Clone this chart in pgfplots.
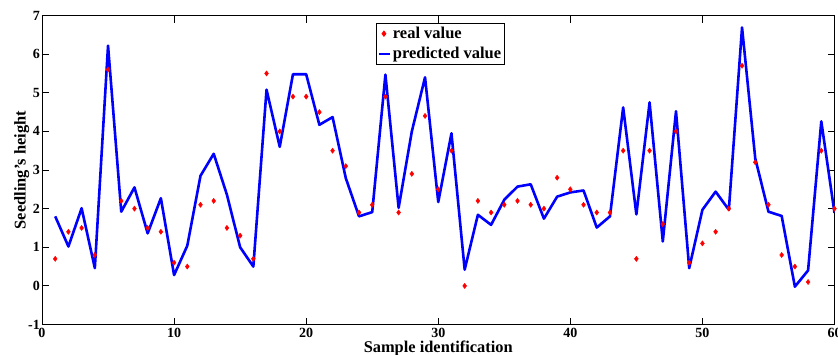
\documentclass[border=0pt]{standalone}
\usepackage{fontspec}
\setmainfont{Liberation Serif}
\usepackage{pgfplots}
\usepackage{pgfplotstable}
\pgfplotsset{compat=1.18}
\pgfplotsset{
  realleg/.style={legend image code/.code={\draw[##1] plot coordinates {(3pt,0pt)};}},
  predleg/.style={legend image code/.code={\draw[##1, line width=2pt] (-2pt,0pt) -- (9pt,0pt);}},
}
\pgfplotstableread{
x y
1 0.7
2 1.4
3 1.5
4 0.8
5 5.6
6 2.2
7 2.0
8 1.5
9 1.4
10 0.6
11 0.5
12 2.1
13 2.2
14 1.5
15 1.3
16 0.7
17 5.5
18 4.0
19 4.9
20 4.9
21 4.5
22 3.5
23 3.1
24 1.9
25 2.1
26 4.9
27 1.9
28 2.9
29 4.4
30 2.5
31 3.5
32 0.0
33 2.2
34 1.9
35 2.1
36 2.2
37 2.1
38 2.0
39 2.8
40 2.5
41 2.1
42 1.9
43 1.9
44 3.5
45 0.7
46 3.5
47 1.6
48 4.0
49 0.6
50 1.1
51 1.4
52 2.0
53 5.7
54 3.2
55 2.1
56 0.8
57 0.5
58 0.1
59 3.5
60 2.0
}\realtab
\pgfplotstableread{
x y
1 1.8
2 1.02
3 2.01
4 0.46
5 6.22
6 1.92
7 2.55
8 1.36
9 2.27
10 0.28
11 1.04
12 2.85
13 3.42
14 2.36
15 1.0
16 0.5
17 5.08
18 3.6
19 5.48
20 5.48
21 4.17
22 4.37
23 2.79
24 1.8
25 1.91
26 5.47
27 2.02
28 4.0
29 5.4
30 2.17
31 3.95
32 0.42
33 1.84
34 1.58
35 2.23
36 2.57
37 2.63
38 1.74
39 2.31
40 2.42
41 2.47
42 1.51
43 1.8
44 4.62
45 1.85
46 4.75
47 1.15
48 4.52
49 0.46
50 1.97
51 2.44
52 1.97
53 6.69
54 3.3
55 1.92
56 1.81
57 -0.02
58 0.4
59 4.26
60 1.89
}\predtab
\begin{document}
\begin{tikzpicture}
\begin{axis}[
  scale only axis,
  width=792.5pt, height=309pt,
  xmin=0, xmax=60, ymin=-1, ymax=7,
  xtick={0,10,...,60}, ytick={-1,0,...,7},
  tick pos=both, tick align=inside,
  major tick length=7pt,
  axis line style={line width=0.8pt, black},
  every tick/.style={line width=0.8pt, black},
  /pgf/number format/assume math mode=true,
  ticklabel style={font=\fontsize{14}{14}\selectfont\bfseries},
  xticklabel style={inner sep=0pt, anchor=north, yshift=-3.5pt},
  yticklabel style={inner sep=0pt, anchor=east, xshift=-2pt},
  xlabel={Sample identification},
  ylabel={Seedling's height},
  label style={font=\fontsize{16.4}{16.4}\selectfont\bfseries},
  xlabel style={at={(axis description cs:0.5,0)}, anchor=north, inner sep=0pt, yshift=-16pt},
  ylabel style={at={(axis description cs:-0.0353,0.5)}, anchor=north, inner sep=0pt},
  legend style={at={(axis description cs:0.4215,0.9757)}, anchor=north west,
    draw=black, line width=0.8pt, inner xsep=1.5pt, inner ysep=2pt,
    font=\fontsize{16.5}{16.5}\selectfont\bfseries,
    row sep=3.5pt,
    cells={anchor=west, inner sep=1pt, text height=11pt, text depth=3.5pt}},
  legend cell align=left,
]
\addplot[only marks, mark=diamond*, mark size=2.6pt, color=red, realleg]
  table[x=x,y=y] {\realtab};
\addlegendentry{real value}
\addplot[color=blue, line width=2.6pt, line join=round, no marks, predleg]
  table[x=x,y=y] {\predtab};
\addlegendentry{predicted value}
\end{axis}
\pgfresetboundingbox
\path[use as bounding box] (-42pt,-29.5pt) rectangle (796pt,324.5pt);
\end{tikzpicture}
\end{document}
